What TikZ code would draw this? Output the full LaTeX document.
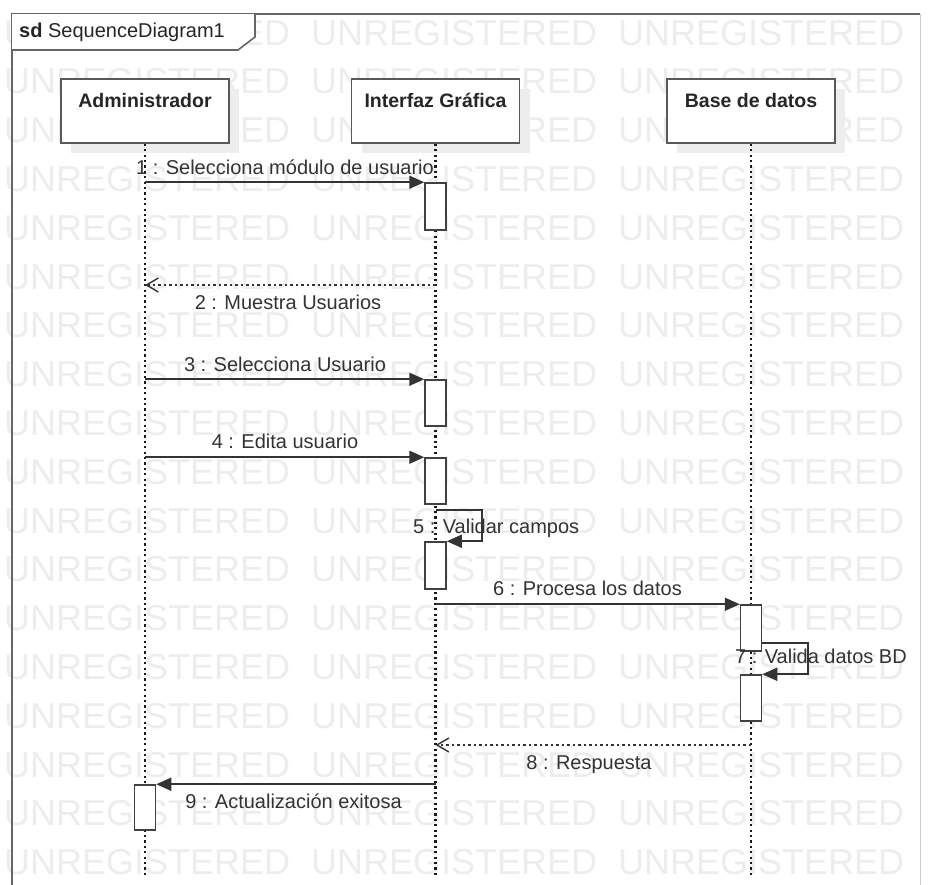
\documentclass[tikz,border=0pt]{standalone}
\usepackage{fontspec}
\setmainfont{Liberation Sans}
\usetikzlibrary{arrows.meta,shadows}

\begin{document}
\begin{tikzpicture}[x=1pt,y=-1pt,
  wm/.style={font=\fontsize{36pt}{40pt}\selectfont, text=black!7, anchor=base west, inner sep=0},
  frameline/.style={draw=black!60, line width=1.6pt},
  lifebox/.style={draw=black!65, line width=1.6pt, fill=white, minimum width=168pt,
    minimum height=64pt, inner sep=0,
    drop shadow={shadow xshift=10pt, shadow yshift=-10pt, fill=black!7, opacity=1}},
  lname/.style={font=\fontsize{19.5pt}{23pt}\selectfont\bfseries, text=black!85, anchor=base, inner sep=0},
  lifeline/.style={line width=2.2pt, draw=black!90, dash pattern=on 2.2pt off 3.2pt},
  act/.style={draw=black!75, line width=1.5pt, fill=white, minimum width=21pt, inner sep=0},
  msg/.style={line width=1.6pt, draw=black!80, -{Triangle[length=15pt,width=13pt]}},
  ret/.style={line width=1.8pt, draw=black!80, dash pattern=on 2.5pt off 3pt,
    -{Straight Barb[length=12pt,width=14pt,line width=1.4pt]}},
  mlabel/.style={font=\fontsize{20pt}{24pt}\selectfont, text=black!80, anchor=base, inner sep=0}
]
\useasboundingbox (0,0) rectangle (928,884);
\fill[white] (0,0) rectangle (928,884);

% watermark rows
\foreach \k in {0,...,17}{
  \foreach \xx in {4,311,618}{
    \node[wm] (wm-\k-\xx) at (\xx, 45+48.8*\k) {UNREGISTERED};
  }
}

% frame with name tab
\draw[frameline] (12,890) -- (12,14) -- (920,14);
\draw[draw=black!20, line width=1pt] (920,14) -- (920,890);
\fill[white] (12,14) -- (255,14) -- (255,37) -- (238,50) -- (12,50) -- cycle;
\draw[frameline] (12,50) -- (238,50) -- (255,37) -- (255,14);
\node[anchor=base west, inner sep=0, font=\fontsize{20pt}{24pt}\selectfont, text=black!85]
  (title) at (19,37) {\textbf{sd} SequenceDiagram1};

% participants
\node[lifebox] (adm) at (145,111) {};
\node[lifebox] (int) at (435.5,111) {};
\node[lifebox] (bd) at (751,111) {};
\node[lname] (adm-t) at (145,107) {Administrador};
\node[lname] (int-t) at (435.5,107) {Interfaz Gráfica};
\node[lname] (bd-t) at (751,107) {Base de datos};

% lifelines
\coordinate (bottom) at (0,878);
\draw[lifeline] (adm.south) -- (adm.south |- bottom);
\draw[lifeline] (int.south) -- (int.south |- bottom);
\draw[lifeline] (bd.south) -- (bd.south |- bottom);

% activation bars
\node[act, minimum height=47pt] (a1) at (435.5,206.5) {};
\node[act, minimum height=46pt] (a3) at (435.5,403) {};
\node[act, minimum height=46pt] (a4) at (435.5,481) {};
\node[act, minimum height=47pt] (a5) at (435.5,565.5) {};
\node[act, minimum height=46pt] (b6) at (751,628) {};
\node[act, minimum height=46pt] (b7) at (751,698) {};
\node[act, minimum height=45pt] (c9) at (145,807.5) {};

% messages
\draw[msg] (adm.south |- a1.north west) -- (a1.north west);
\coordinate (r2) at (435.5,285);
\draw[ret] (r2) -- (adm.south |- r2);
\draw[msg] (adm.south |- a3.north west) -- (a3.north west);
\draw[msg] (adm.south |- a4.north west) -- (a4.north west);
\coordinate (s5) at (435.5,510);
\draw[msg] (s5) -- ++(46.5,0) |- (a5.north east);
\draw[msg] (int.south |- b6.north west) -- (b6.north west);
\coordinate (s7) at ([yshift=9pt]b6.south east);
\draw[msg] (s7) -- ++(46,0) |- (b7.north east);
\coordinate (r8) at (751,745);
\draw[ret] (r8) -- (int.south |- r8);
\draw[msg] (int.south |- c9.north east) -- (c9.north east);

% message labels
\node[mlabel] (l1) at (285,174) {1 : Selecciona módulo de usuario};
\node[mlabel] (l2) at (288,309) {2 : Muestra Usuarios};
\node[mlabel] (l3) at (285,371) {3 : Selecciona Usuario};
\node[mlabel] (l4) at (285,448) {4 : Edita usuario};
\node[mlabel, anchor=base west] (l5) at (413,533) {5 : Validar campos};
\node[mlabel] (l6) at (587.5,595) {6 : Procesa los datos};
\node[mlabel, anchor=base west] (l7) at (735,663) {7 : Valida datos BD};
\node[mlabel] (l8) at (589,769) {8 : Respuesta};
\node[mlabel] (l9) at (293.5,808) {9 : Actualización exitosa};
\end{tikzpicture}
\end{document}
